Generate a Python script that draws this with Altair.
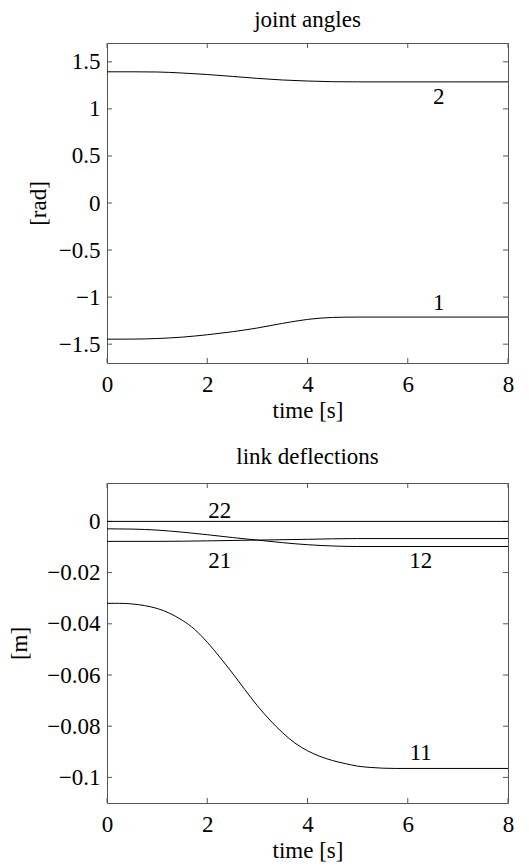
import altair as alt
import pandas as pd

FONT = "Liberation Serif"
FS = 23
FRAME = "#555555"
W, H = 401, 320
TL = 5  # tick length (inward)

# ---------------- joint angles ----------------
t_q1 = [0, 0.5, 1.0, 1.5, 2.0, 2.5, 3.0, 3.5, 4.0, 4.5, 5.0, 8.0]
q1 = [-1.447, -1.446, -1.440, -1.425, -1.400, -1.368, -1.328, -1.279, -1.237, -1.216, -1.212, -1.212]
t_q2 = [0, 0.5, 1.0, 1.5, 2.0, 2.5, 3.0, 3.5, 4.0, 4.5, 5.0, 8.0]
q2 = [1.394, 1.394, 1.392, 1.381, 1.365, 1.345, 1.324, 1.307, 1.296, 1.289, 1.287, 1.287]

q_labels = ["2", "1"]
q_label_t = [6.62, 6.62]
q_label_v = [1.13, -1.065]

q_yticks = [-1.5, -1.0, -0.5, 0.0, 0.5, 1.0, 1.5]
q_ydomain = [-1.7, 1.7]

# ---------------- link deflections ----------------
t_d11 = [0, 0.25, 0.5, 0.75, 1.0, 1.25, 1.5, 1.75, 2.0, 2.25, 2.5, 2.75, 3.0, 3.25, 3.5,
         3.75, 4.0, 4.25, 4.5, 4.75, 5.0, 5.25, 5.5, 5.75, 8.0]
d11 = [-0.0320, -0.0320, -0.03225, -0.0329, -0.0340, -0.0359, -0.0386, -0.0422, -0.0472,
       -0.0530, -0.0592, -0.0657, -0.0720, -0.0776, -0.0825, -0.0866, -0.0896, -0.0918,
       -0.0934, -0.0946, -0.0956, -0.0961, -0.0964, -0.0965, -0.0965]
t_d12 = [0, 0.5, 1.0, 1.5, 2.0, 2.5, 3.0, 3.5, 4.0, 4.5, 5.0, 8.0]
d12 = [-0.0029, -0.0030, -0.0034, -0.0042, -0.0052, -0.0063, -0.0073, -0.0083, -0.0091, -0.0096, -0.0098, -0.0098]
t_d21 = [0, 1.0, 2.0, 3.0, 4.0, 4.5, 5.0, 8.0]
d21 = [-0.0078, -0.0078, -0.0076, -0.0073, -0.0070, -0.0068, -0.0067, -0.0067]
t_d22 = [0, 8.0]
d22 = [0.0, 0.0]

d_labels = ["22", "21", "12", "11"]
d_label_t = [2.25, 2.25, 6.26, 6.26]
d_label_v = [0.0040, -0.0156, -0.0156, -0.0906]

d_yticks = [-0.1, -0.08, -0.06, -0.04, -0.02, 0.0]
d_ydomain = [-0.11, 0.015]

x_ticks = [0, 2, 4, 6, 8]
x_domain = [0, 8]


def curves_df(pairs):
    rows = []
    for name, ts, vs in pairs:
        for t, v in zip(ts, vs):
            rows.append({"t": t, "v": v, "s": name})
    return pd.DataFrame(rows)


def panel(title, ytitle, df, lab_df, yticks, ydomain, ytitle_pad, title_offset):
    xs = alt.Scale(domain=x_domain, nice=False, zero=False)
    ys = alt.Scale(domain=ydomain, nice=False, zero=False)
    xax = alt.Axis(values=x_ticks, title="time [s]", ticks=False, domain=False, grid=False,
                   labelPadding=10, titlePadding=3, format="~g", labelFlush=False)
    yax = alt.Axis(values=yticks, title=ytitle, ticks=False, domain=False, grid=False,
                   labelPadding=7, titlePadding=ytitle_pad, format="~g")
    X = lambda: alt.X("t:Q", scale=xs, axis=xax)
    Y = lambda: alt.Y("v:Q", scale=ys, axis=yax)

    lines = alt.Chart(df).mark_line(color="black", strokeWidth=1, interpolate="monotone").encode(
        x=X(), y=Y(), detail="s:N")
    labels = alt.Chart(lab_df).mark_text(font=FONT, fontSize=FS, color="black",
                                         align="center", baseline="middle").encode(
        x=X(), y=Y(), text="label:N")

    xt = pd.DataFrame({"t": x_ticks})
    yt = pd.DataFrame({"v": yticks})
    tb = alt.Chart(xt).mark_rule(color=FRAME, strokeWidth=1).encode(
        x=X(), y=alt.value(H), y2=alt.value(H - TL))
    tt = alt.Chart(xt).mark_rule(color=FRAME, strokeWidth=1).encode(
        x=X(), y=alt.value(0), y2=alt.value(TL))
    tlft = alt.Chart(yt).mark_rule(color=FRAME, strokeWidth=1).encode(
        y=Y(), x=alt.value(0), x2=alt.value(TL))
    trgt = alt.Chart(yt).mark_rule(color=FRAME, strokeWidth=1).encode(
        y=Y(), x=alt.value(W - TL), x2=alt.value(W))

    return alt.layer(tb, tt, tlft, trgt, lines, labels).properties(
        width=W, height=H, title=alt.TitleParams(title, offset=title_offset))


q_df = curves_df([("q1", t_q1, q1), ("q2", t_q2, q2)])
q_lab = pd.DataFrame({"t": q_label_t, "v": q_label_v, "label": q_labels})
d_df = curves_df([("d11", t_d11, d11), ("d12", t_d12, d12), ("d21", t_d21, d21), ("d22", t_d22, d22)])
d_lab = pd.DataFrame({"t": d_label_t, "v": d_label_v, "label": d_labels})

top = panel("joint angles", "[rad]", q_df, q_lab, q_yticks, q_ydomain, 8, 11)
bottom = panel("link deflections", "[m]", d_df, d_lab, d_yticks, d_ydomain, 15, 14)

chart = alt.vconcat(top, bottom, spacing=22).properties(
    padding={"left": 0, "top": 0, "right": 0, "bottom": 0},
    background="white",
).configure_view(
    stroke=FRAME, strokeWidth=1
).configure_axis(
    labelFont=FONT, labelFontSize=FS, labelColor="black",
    titleFont=FONT, titleFontSize=FS, titleFontWeight="normal", titleColor="black"
).configure_title(
    font=FONT, fontSize=FS, fontWeight="normal", color="black", anchor="middle"
)

chart.save("out.html", embed_options={"renderer": "svg", "actions": False})
